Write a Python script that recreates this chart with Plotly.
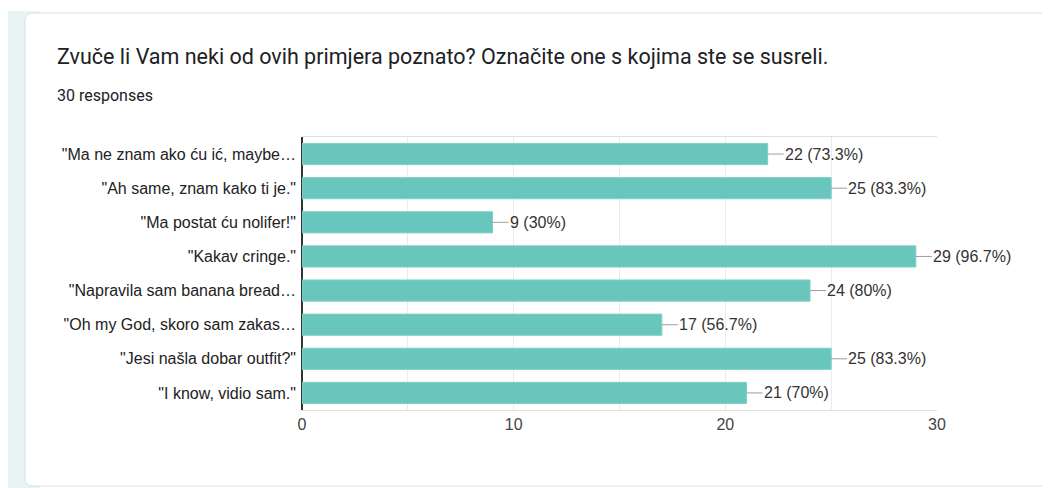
import plotly.graph_objects as go

categories = [
    '"Ma ne znam ako ću ić, maybe…',
    '"Ah same, znam kako ti je."',
    '"Ma postat ću nolifer!"',
    '"Kakav cringe."',
    '"Napravila sam banana bread…',
    '"Oh my God, skoro sam zakas…',
    '"Jesi našla dobar outfit?"',
    '"I know, vidio sam."',
]
counts = [22, 25, 9, 29, 24, 17, 25, 21]
percents = ["73.3%", "83.3%", "30%", "96.7%", "80%", "56.7%", "83.3%", "70%"]

title = "Zvuče li Vam neki od ovih primjera poznato? Označite one s kojima ste se susreli."
subtitle = "30 responses"

# the page body adds an 8px margin, so the figure is laid out 8px up/left
OFF = 8
W, H = 1050 - OFF, 488 - OFF
L, R, T, B = 302 - OFF, 937 - OFF, 137 - OFF, 410 - OFF
pw, ph = R - L, B - T


def px(x):
    return (x - OFF - L) / pw


def py(y):
    return (B - (y - OFF)) / ph


fig = go.Figure()
fig.add_trace(go.Bar(
    x=counts, y=categories, orientation="h",
    marker=dict(color="#68c6bc", line=dict(color="#7fd0c6", width=1)),
    hoverinfo="skip",
))

# value labels with short leader lines
for c, p, n in zip(categories, percents, counts):
    fig.add_annotation(
        x=n, y=c, text=f"{n} ({p})", showarrow=True, arrowhead=0,
        arrowwidth=1, arrowcolor="#9e9e9e", ax=16, ay=0, xanchor="left",
        standoff=0, borderpad=0,
        font=dict(family="Liberation Sans, Arial", size=16, color="#333333"),
    )

# page strip and card
rx, ry = 8 / pw, 8 / ph
cx0, cx1, cy0, cy1 = px(25), px(1047), py(486), py(13)
card = (f"M {cx0+rx},{cy1} L {cx1-rx},{cy1} Q {cx1},{cy1} {cx1},{cy1-ry} "
        f"L {cx1},{cy0+ry} Q {cx1},{cy0} {cx1-rx},{cy0} L {cx0+rx},{cy0} "
        f"Q {cx0},{cy0} {cx0},{cy0+ry} L {cx0},{cy1-ry} Q {cx0},{cy1} {cx0+rx},{cy1} Z")
fig.add_shape(type="rect", xref="paper", yref="paper", x0=px(OFF), x1=px(40),
              y0=py(488), y1=py(11), fillcolor="#e8f4f3", line_width=0, layer="below")
fig.add_shape(type="path", xref="paper", yref="paper", path=card,
              fillcolor="white", line=dict(color="#dadfe0", width=1), layer="below")

fig.add_annotation(xref="paper", yref="paper", x=px(55), y=py(57), text=title,
                   showarrow=False, xanchor="left", yanchor="middle",
                   font=dict(family="Roboto", size=21.5, color="#202124"))
fig.add_annotation(xref="paper", yref="paper", x=px(55), y=py(95), text=subtitle,
                   showarrow=False, xanchor="left", yanchor="middle",
                   font=dict(family="Roboto", size=16, color="#202124"))

fig.update_layout(
    width=W, height=H,
    margin=dict(l=L, r=W - R, t=T, b=H - B, pad=0),
    paper_bgcolor="white", plot_bgcolor="white",
    bargap=0.38, showlegend=False,
    font=dict(family="Liberation Sans, Arial", size=16, color="#222222"),
)
fig.update_xaxes(
    range=[0, 30], tickvals=[0, 10, 20, 30], showgrid=True, gridcolor="#ebebeb",
    minor=dict(dtick=5, showgrid=True, gridcolor="#ebebeb"),
    showline=True, linecolor="#e0e0e0", mirror=True,
    zeroline=True, zerolinecolor="#333333", zerolinewidth=1.5,
    tickfont=dict(color="#444444", size=16), ticks="",
)
fig.update_yaxes(
    autorange="reversed", showgrid=False, showline=False, ticks="",
    ticklabelstandoff=5, tickfont=dict(color="#222222", size=16),
)

fig.write_html("out.html")
